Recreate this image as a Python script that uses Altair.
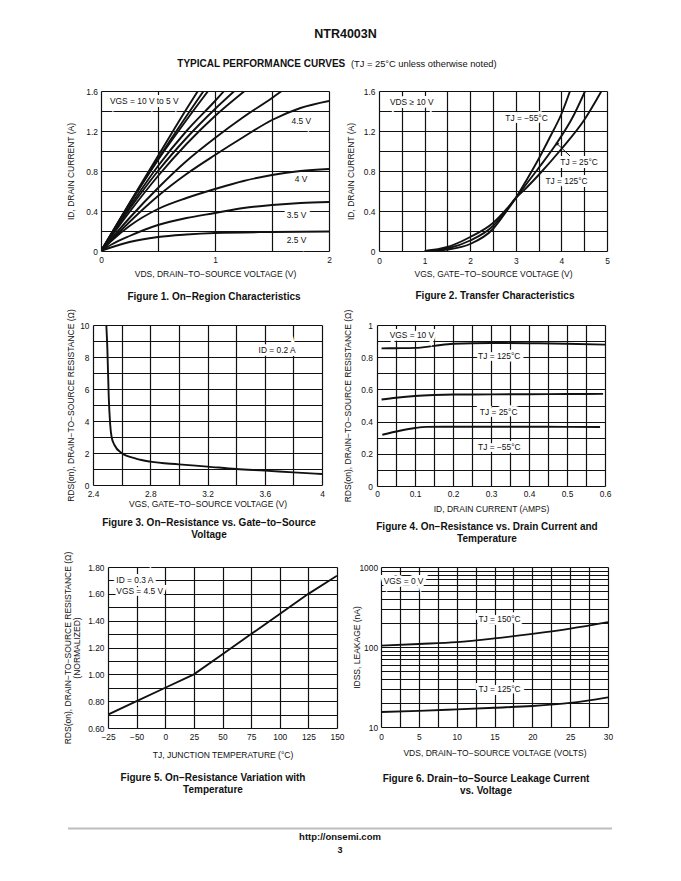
import altair as alt
import pandas as pd

FONT = "Liberation Sans"
INK = "#111111"

# ---------------- page texts ----------------
HEAD_TITLE = ["NTR4003N"]
HEAD_SECTION = ["TYPICAL PERFORMANCE CURVES"]
HEAD_NOTE = ["(TJ = 25°C unless otherwise noted)"]
FOOT_URL = ["http://onsemi.com"]
FOOT_PAGE = ["3"]
CAPTIONS = [
    "Figure 1. On−Region Characteristics",
    "Figure 2. Transfer Characteristics",
    "Figure 3. On−Resistance vs. Gate−to−Source\nVoltage",
    "Figure 4. On−Resistance vs. Drain Current and\nTemperature",
    "Figure 5. On−Resistance Variation with\nTemperature",
    "Figure 6. Drain−to−Source Leakage Current\nvs. Voltage",
]

# ---------------- Figure 1: ID vs VDS ----------------
F1_NAMES = ["10 V", "8 V", "7 V", "6 V", "5.5 V", "5.25 V", "5 V", "4.5 V", "4 V", "3.5 V", "2.5 V"]
F1_X_10 = [0, 0.25, 0.5, 0.75, 0.85]
F1_Y_10 = [0, 0.48, 0.95, 1.42, 1.60]
F1_X_8 = [0, 0.25, 0.5, 0.75, 0.90]
F1_Y_8 = [0, 0.47, 0.92, 1.35, 1.60]
F1_X_7 = [0, 0.25, 0.5, 0.75, 0.94]
F1_Y_7 = [0, 0.47, 0.91, 1.31, 1.60]
F1_X_6 = [0, 0.25, 0.5, 0.75, 1.0, 1.08]
F1_Y_6 = [0, 0.44, 0.85, 1.20, 1.50, 1.60]
F1_X_55 = [0, 0.25, 0.5, 0.75, 1.0, 1.17]
F1_Y_55 = [0, 0.42, 0.80, 1.13, 1.42, 1.60]
F1_X_525 = [0, 0.25, 0.5, 0.75, 1.0, 1.26]
F1_Y_525 = [0, 0.39, 0.75, 1.07, 1.35, 1.60]
F1_X_5 = [0, 0.25, 0.5, 0.75, 1.0, 1.25, 1.5, 1.585]
F1_Y_5 = [0, 0.33, 0.63, 0.90, 1.13, 1.34, 1.53, 1.60]
F1_X_45 = [0, 0.25, 0.5, 0.75, 1.0, 1.25, 1.5, 1.75, 2.0]
F1_Y_45 = [0, 0.29, 0.55, 0.77, 0.96, 1.14, 1.31, 1.43, 1.50]
F1_X_4 = [0, 0.1, 0.25, 0.5, 0.75, 1.0, 1.25, 1.5, 1.75, 2.0]
F1_Y_4 = [0, 0.11, 0.25, 0.42, 0.53, 0.62, 0.70, 0.76, 0.80, 0.82]
F1_X_35 = [0, 0.1, 0.25, 0.5, 0.75, 1.0, 1.25, 1.5, 1.75, 2.0]
F1_Y_35 = [0, 0.07, 0.15, 0.26, 0.33, 0.38, 0.43, 0.46, 0.48, 0.49]
F1_X_25 = [0, 0.1, 0.25, 0.5, 0.75, 1.0, 1.5, 2.0]
F1_Y_25 = [0, 0.04, 0.09, 0.14, 0.165, 0.18, 0.19, 0.195]
F1_LABELS = ["VGS = 10 V to 5 V", "4.5 V", "4 V", "3.5 V", "2.5 V"]
F1_LAB_X = [0.079, 1.672, 1.70, 1.629, 1.629]
F1_LAB_Y = [1.497, 1.303, 0.725, 0.363, 0.107]
F1_XGRID = [0, 0.5, 1, 1.5, 2]
F1_XLAB = ["0", "", "1", "", "2"]
F1_YGRID = [0, 0.2, 0.4, 0.6, 0.8, 1.0, 1.2, 1.4, 1.6]
F1_YLAB = ["0", "", "0.4", "", "0.8", "", "1.2", "", "1.6"]

# ---------------- Figure 2: transfer ----------------
F2_NAMES = ["−55°C", "25°C", "125°C"]
F2_X_M55 = [1.1, 1.5, 2.0, 2.5, 2.8, 3.0, 3.25, 3.5, 3.75, 4.0, 4.19]
F2_Y_M55 = [0, 0.015, 0.07, 0.22, 0.40, 0.53, 0.72, 0.92, 1.14, 1.37, 1.60]
F2_X_25 = [1.05, 1.5, 2.0, 2.5, 2.8, 3.0, 3.25, 3.5, 3.9, 4.25, 4.52]
F2_Y_25 = [0, 0.025, 0.105, 0.25, 0.41, 0.53, 0.68, 0.83, 1.08, 1.34, 1.60]
F2_X_125 = [1.0, 1.5, 2.0, 2.5, 2.8, 3.0, 3.25, 3.5, 4.0, 4.5, 4.88]
F2_Y_125 = [0, 0.04, 0.14, 0.28, 0.42, 0.53, 0.64, 0.76, 1.02, 1.31, 1.60]
F2_LABELS = ["VDS ≥ 10 V", "TJ = −55°C", "TJ = 25°C", "TJ = 125°C"]
F2_LAB_X = [0.24, 2.77, 3.975, 3.65]
F2_LAB_Y = [1.493, 1.327, 0.893, 0.703]
F2_ARROW_X = [4.19, 3.90]
F2_ARROW_Y = [0.95, 1.075]
F2_XGRID = [0, 0.5, 1, 1.5, 2, 2.5, 3, 3.5, 4, 4.5, 5]
F2_XLAB = ["0", "", "1", "", "2", "", "3", "", "4", "", "5"]

# ---------------- Figure 3: RDS vs VGS ----------------
F3_X = [2.493, 2.50, 2.51, 2.52, 2.53, 2.55, 2.6, 2.7, 2.8, 3.0, 3.2, 3.4, 3.6, 3.8, 4.0]
F3_Y = [10, 8.6, 5.5, 3.8, 3.0, 2.5, 2.0, 1.65, 1.46, 1.29, 1.15, 1.0, 0.9, 0.79, 0.69]
F3_LABELS = ["ID = 0.2 A"]
F3_LAB_X = [3.557]
F3_LAB_Y = [8.44]
F3_XGRID = [2.4, 2.6, 2.8, 3.0, 3.2, 3.4, 3.6, 3.8, 4.0]
F3_XLAB = ["2.4", "", "2.8", "", "3.2", "", "3.6", "", "4"]
F3_YGRID = [0, 1, 2, 3, 4, 5, 6, 7, 8, 9, 10]
F3_YLAB = ["0", "", "2", "", "4", "", "6", "", "8", "", "10"]

# ---------------- Figure 4: RDS vs ID ----------------
F4_NAMES = ["125°C", "25°C", "−55°C"]
F4_X_125 = [0.012, 0.05, 0.1, 0.15, 0.2, 0.3, 0.4, 0.5, 0.6]
F4_Y_125 = [0.855, 0.856, 0.858, 0.870, 0.884, 0.888, 0.887, 0.884, 0.878]
F4_X_25 = [0.012, 0.05, 0.1, 0.15, 0.2, 0.3, 0.4, 0.5, 0.595]
F4_Y_25 = [0.537, 0.548, 0.559, 0.565, 0.568, 0.569, 0.570, 0.571, 0.572]
F4_X_M55 = [0.014, 0.06, 0.1, 0.13, 0.2, 0.3, 0.4, 0.5, 0.587]
F4_Y_M55 = [0.318, 0.343, 0.360, 0.367, 0.368, 0.368, 0.368, 0.367, 0.366]
F4_LABELS = ["VGS = 10 V", "TJ = 125°C", "TJ = 25°C", "TJ = −55°C"]
F4_LAB_X = [0.0334, 0.266, 0.2707, 0.266]
F4_LAB_Y = [0.938, 0.806, 0.459, 0.2417]
F4_XGRID = [0, 0.05, 0.1, 0.15, 0.2, 0.25, 0.3, 0.35, 0.4, 0.45, 0.5, 0.55, 0.6]
F4_XLAB = ["0", "", "0.1", "", "0.2", "", "0.3", "", "0.4", "", "0.5", "", "0.6"]
F4_YGRID = [0, 0.1, 0.2, 0.3, 0.4, 0.5, 0.6, 0.7, 0.8, 0.9, 1.0]
F4_YLAB = ["0", "", "0.2", "", "0.4", "", "0.6", "", "0.8", "", "1"]

# ---------------- Figure 5: RDS vs temperature ----------------
F5_X = [-50, -25, 0, 25, 50, 75, 100, 125, 150]
F5_Y = [0.70, 0.80, 0.90, 1.00, 1.15, 1.30, 1.45, 1.60, 1.735]
F5_LABELS = ["ID = 0.3 A", "VGS = 4.5 V"]
F5_LAB_X = [-42.7, -42.7]
F5_LAB_Y = [1.705, 1.618]
F5_XGRID = [-50, -25, 0, 25, 50, 75, 100, 125, 150]
F5_XLAB = ["−25", "−50", "0", "25", "50", "75", "100", "125", "150"]
F5_YGRID = [0.6, 0.7, 0.8, 0.9, 1.0, 1.1, 1.2, 1.3, 1.4, 1.5, 1.6, 1.7, 1.8]
F5_YLAB = ["0.60", "", "0.80", "", "1.00", "", "1.20", "", "1.40", "", "1.60", "", "1.80"]

# ---------------- Figure 6: leakage ----------------
F6_NAMES = ["150°C", "125°C"]
F6_X = [0, 5, 10, 15, 20, 25, 30]
F6_Y_150 = [104, 109, 115, 128, 146, 170, 205]
F6_Y_125 = [15.4, 15.9, 16.6, 17.4, 18.3, 20.0, 23.5]
F6_LABELS = ["VGS = 0 V", "TJ = 150°C", "TJ = 125°C"]
F6_LAB_X = [0.35, 12.87, 12.87]
F6_LAB_Y = [675, 226, 29.9]
F6_XGRID = [0, 2.5, 5, 7.5, 10, 12.5, 15, 17.5, 20, 22.5, 25, 27.5, 30]
F6_XLAB = ["0", "", "5", "", "10", "", "15", "", "20", "", "25", "", "30"]
F6_YGRID = [10, 20, 30, 40, 50, 60, 70, 80, 90, 100, 200, 300, 400, 500, 600, 700, 800, 900, 1000]
F6_YLAB = ["10", "", "", "", "", "", "", "", "", "100", "", "", "", "", "", "", "", "", "1000"]


# ---------------- helpers ----------------
def curves(names, xs_list, ys_list):
    rows = []
    for n, xs, ys in zip(names, xs_list, ys_list):
        rows += [{"curve": n, "x": a, "y": b} for a, b in zip(xs, ys)]
    return pd.DataFrame(rows)


def labels(texts, xs, ys):
    return pd.DataFrame({"label": texts, "x": xs, "y": ys})


def axis(values, labs, title, lpad, tpad, ext, **kw):
    return alt.Axis(
        values=values,
        labelExpr=f"{labs}[indexof({values}, datum.value)]",
        title=title, grid=True, ticks=False, domain=False,
        labelPadding=lpad, titlePadding=tpad, minExtent=ext, maxExtent=ext,
        labelOverlap=False, labelFlush=False, **kw)


def text_layer(texts, x, y, size, weight="normal", align="left"):
    return alt.Chart(pd.DataFrame({"t": texts})).mark_text(
        font=FONT, fontSize=size, fontWeight=weight, align=align,
        baseline="alphabetic", color=INK).encode(
        text="t:N", x=alt.value(x), y=alt.value(y))


def panel(df, X, Y, lab, caption, cap_x, cap_y, w, h, interp="monotone", extra=None):
    lines = alt.Chart(df).mark_line(color=INK, strokeWidth=1.9, clip=True,
                                    interpolate=interp).encode(x=X, y=Y, detail="curve:N")
    halo = alt.Chart(lab).mark_text(align="left", baseline="middle", font=FONT, fontSize=8.4,
                                    color="white", stroke="white", strokeWidth=6).encode(
        x=X, y=Y, text="label:N")
    txt = alt.Chart(lab).mark_text(align="left", baseline="middle", font=FONT, fontSize=8.4,
                                   color=INK).encode(x=X, y=Y, text="label:N")
    cap = alt.Chart(pd.DataFrame({"c": [caption]})).mark_text(
        align="center", baseline="alphabetic", font=FONT, fontSize=10, fontWeight="bold",
        color=INK, lineBreak="\n", lineHeight=12).encode(
        text="c:N", x=alt.value(cap_x), y=alt.value(cap_y))
    layers = [lines] + (extra(X, Y) if extra else []) + [halo, txt, cap]
    return alt.layer(*layers).properties(width=w, height=h)


def spacer(w, h, top, bottom, extra=None):
    # invisible frame fixing the extent of a row for the page layout
    frame = alt.Chart(pd.DataFrame({"z": [0]})).mark_rect(opacity=0).encode(
        x=alt.value(0), x2=alt.value(1), y=alt.value(-top), y2=alt.value(bottom))
    if extra:
        return alt.layer(frame, *extra).properties(width=w, height=h)
    return frame.properties(width=w, height=h)


YT = "RDS(on), DRAIN−TO−SOURCE RESISTANCE (Ω)"

# ---------------- panels ----------------
fig1 = panel(
    curves(F1_NAMES,
           [F1_X_10, F1_X_8, F1_X_7, F1_X_6, F1_X_55, F1_X_525, F1_X_5, F1_X_45, F1_X_4, F1_X_35, F1_X_25],
           [F1_Y_10, F1_Y_8, F1_Y_7, F1_Y_6, F1_Y_55, F1_Y_525, F1_Y_5, F1_Y_45, F1_Y_4, F1_Y_35, F1_Y_25]),
    alt.X("x:Q", scale=alt.Scale(domain=[0, 2], nice=False, zero=False),
          axis=axis(F1_XGRID, F1_XLAB, "VDS, DRAIN−TO−SOURCE VOLTAGE (V)", 4.7, 8.7, 10)),
    alt.Y("y:Q", scale=alt.Scale(domain=[0, 1.6], nice=False, zero=False),
          axis=axis(F1_YGRID, F1_YLAB, "ID, DRAIN CURRENT (A)", 3.5, 9.2, 16)),
    labels(F1_LABELS, F1_LAB_X, F1_LAB_Y), CAPTIONS[0], 113, 209, 228, 160)


def f2_extra(X, Y):
    arrow = alt.Chart(pd.DataFrame({"x": [F2_ARROW_X[0]], "y": [F2_ARROW_Y[0]],
                                    "x2": [F2_ARROW_X[1]], "y2": [F2_ARROW_Y[1]]})).mark_rule(
        color=INK, strokeWidth=1).encode(x=X, y=Y, x2="x2:Q", y2="y2:Q")
    head = alt.Chart(pd.DataFrame({"x": [F2_ARROW_X[1]], "y": [F2_ARROW_Y[1]]})).mark_point(
        shape="triangle-up", filled=True, size=14, angle=313, color=INK, opacity=1).encode(x=X, y=Y)
    return [arrow, head]


fig2 = panel(
    curves(F2_NAMES, [F2_X_M55, F2_X_25, F2_X_125], [F2_Y_M55, F2_Y_25, F2_Y_125]),
    alt.X("x:Q", scale=alt.Scale(domain=[0, 5], nice=False, zero=False),
          axis=axis(F2_XGRID, F2_XLAB, "VGS, GATE−TO−SOURCE VOLTAGE (V)", 5.7, 8.1, 10)),
    alt.Y("y:Q", scale=alt.Scale(domain=[0, 1.6], nice=False, zero=False),
          axis=axis(F1_YGRID, F1_YLAB, "ID, DRAIN CURRENT (A)", 4, 7.2, 16)),
    labels(F2_LABELS, F2_LAB_X, F2_LAB_Y), CAPTIONS[1], 116, 208, 228, 160, extra=f2_extra)

fig3 = panel(
    curves(["0.2 A"], [F3_X], [F3_Y]),
    alt.X("x:Q", scale=alt.Scale(domain=[2.4, 4], nice=False, zero=False),
          axis=axis(F3_XGRID, F3_XLAB, "VGS, GATE−TO−SOURCE VOLTAGE (V)", 4.1, 4.7, 10)),
    alt.Y("y:Q", scale=alt.Scale(domain=[0, 10], nice=False, zero=False),
          axis=axis(F3_YGRID, F3_YLAB, YT, 4, 1.2, 16)),
    labels(F3_LABELS, F3_LAB_X, F3_LAB_Y), CAPTIONS[2], 116, 201, 229, 160)

fig4 = panel(
    curves(F4_NAMES, [F4_X_125, F4_X_25, F4_X_M55], [F4_Y_125, F4_Y_25, F4_Y_M55]),
    alt.X("x:Q", scale=alt.Scale(domain=[0, 0.6], nice=False, zero=False),
          axis=axis(F4_XGRID, F4_XLAB, "ID, DRAIN CURRENT (AMPS)", 3.1, 8.7, 10)),
    alt.Y("y:Q", scale=alt.Scale(domain=[0, 1], nice=False, zero=False),
          axis=axis(F4_YGRID, F4_YLAB, YT, 4.5, 8.7, 16)),
    labels(F4_LABELS, F4_LAB_X, F4_LAB_Y), CAPTIONS[3], 110, 205, 228, 161)

fig5 = panel(
    curves(["0.3 A"], [F5_X], [F5_Y]),
    alt.X("x:Q", scale=alt.Scale(domain=[-50, 150], nice=False, zero=False),
          axis=axis(F5_XGRID, F5_XLAB, "TJ, JUNCTION TEMPERATURE (°C)", 4.7, 12.4, 10)),
    alt.Y("y:Q", scale=alt.Scale(domain=[0.6, 1.8], nice=False, zero=False),
          axis=axis(F5_YGRID, F5_YLAB, [YT, "(NORMALIZED)"], 4, 10.9, 16, titleLineHeight=9)),
    labels(F5_LABELS, F5_LAB_X, F5_LAB_Y), CAPTIONS[4], 105, 213.5, 229, 161, interp="linear")

fig6 = panel(
    curves(F6_NAMES, [F6_X, F6_X], [F6_Y_150, F6_Y_125]),
    alt.X("x:Q", scale=alt.Scale(domain=[0, 30], nice=False, zero=False),
          axis=axis(F6_XGRID, F6_XLAB, "VDS, DRAIN−TO−SOURCE VOLTAGE (VOLTS)", 5.7, 11.1, 10)),
    alt.Y("y:Q", scale=alt.Scale(type="log", domain=[10, 1000], nice=False),
          axis=axis(F6_YGRID, F6_YLAB, "IDSS, LEAKAGE (nA)", 3.4, 3.2, 16)),
    labels(F6_LABELS, F6_LAB_X, F6_LAB_Y), CAPTIONS[5], 105, 214.5, 227, 160)

header = [
    text_layer(HEAD_TITLE, 290.5, -52.7, 12.5, "bold", "center"),
    text_layer(HEAD_SECTION, 122.3, -23.8, 10, "bold", "left"),
    text_layer(HEAD_NOTE, 296, -23.8, 9.3, "normal", "left"),
]
footer = [
    alt.Chart(pd.DataFrame({"z": [0]})).mark_rule(color="#bdbdbd", strokeWidth=2).encode(
        x=alt.value(13), x2=alt.value(557), y=alt.value(261.5)),
    text_layer(FOOT_URL, 285, 273.2, 9.5, "bold", "center"),
    text_layer(FOOT_PAGE, 285, 285.8, 9, "bold", "center"),
]

row1 = alt.hconcat(spacer(46, 160, 70, 216, header), fig1, spacer(50, 160, 0, 160), fig2,
                   spacing=0, bounds="flush")
row2 = alt.hconcat(spacer(38, 160, 18, 226), fig3, spacer(55, 160, 0, 160), fig4,
                   spacing=0, bounds="flush")
row3 = alt.hconcat(spacer(53, 160, 16, 295, footer), fig5, spacer(44, 160, 0, 160), fig6,
                   spacing=0, bounds="flush")

chart = alt.vconcat(row1, row2, row3, spacing=0).properties(
    padding={"left": 47, "top": 13, "right": 5, "bottom": 5}
).configure(font=FONT).configure_view(strokeWidth=0).configure_axis(
    labelFont=FONT, titleFont=FONT, labelFontSize=8.4, titleFontSize=8.5,
    labelColor=INK, titleColor=INK, titleFontWeight="normal",
    gridColor=INK, gridWidth=1.2, gridOpacity=1)

chart.save("out.html", embed_options={"renderer": "svg", "actions": False})
